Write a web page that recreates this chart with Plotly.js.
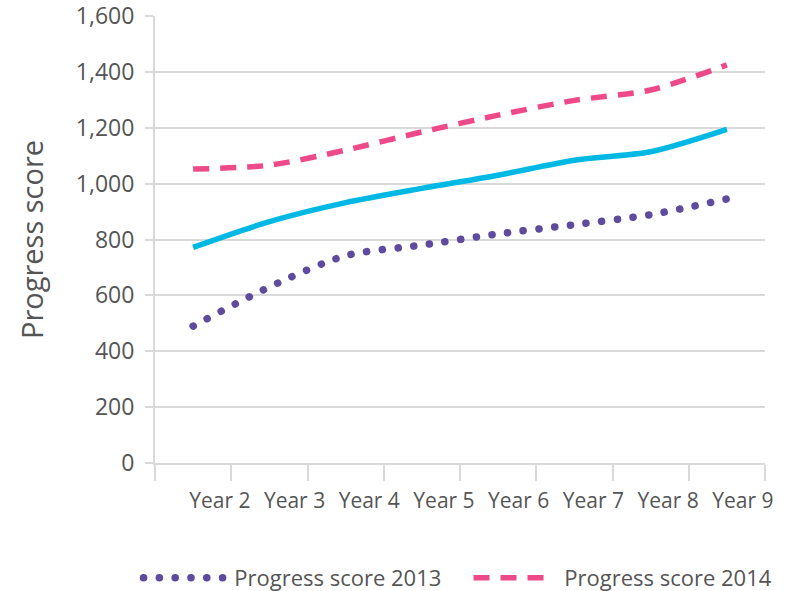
<!DOCTYPE html>
<html>
<head>
<meta charset="utf-8">
<script src="https://cdn.plot.ly/plotly-3.0.1.min.js"></script>
<style>
  body { margin: 0; padding: 0; background: #fff; }
  #chart { width: 785px; height: 591px; }
  path.js-line[style*="0.1px"] { stroke-linecap: round; }
</style>
</head>
<body>
<div id="chart"></div>
<script>
// ---- data ----
var yearLabels = ["Year 2", "Year 3", "Year 4", "Year 5", "Year 6", "Year 7", "Year 8", "Year 9"];
var score2013 = [490, 630, 742, 780, 820, 853, 889, 945];
var score2014 = [1052, 1066, 1120, 1185, 1245, 1298, 1335, 1425];
var scoreOverall = [772, 864, 932, 983, 1030, 1084, 1114, 1194];
var yTicks = [0, 200, 400, 600, 800, 1000, 1200, 1400, 1600];

var xPos = yearLabels.map(function (_, i) { return i + 0.5; });
var boundaries = yearLabels.map(function (_, i) { return i; }).concat([yearLabels.length]);
var labelPos = yearLabels.map(function (_, i) { return 0.85 + 0.98 * i; });

var FONT = "'Open Sans', 'Noto Sans', sans-serif";
var TXT = "#555555";
var GRID = "#d9d9d9";
var NB = "\u00A0";

var traces = [
  {
    x: xPos, y: score2013, name: NB + "Progress score 2013", type: "scatter", mode: "lines",
    line: { color: "#5e4b9e", width: 7.5, dash: "0.1px,15.7px", shape: "spline", smoothing: 0.8 }
  },
  {
    x: xPos, y: score2014, name: NB + "Progress score 2014", type: "scatter", mode: "lines",
    line: { color: "#ee4a8a", width: 5.5, dash: "16px,11px", shape: "spline", smoothing: 0.8 }
  },
  {
    x: xPos, y: scoreOverall, name: "Progress score", type: "scatter", mode: "lines",
    showlegend: false,
    line: { color: "#00b8e4", width: 5.5, shape: "spline", smoothing: 0.8 }
  }
];

var layout = {
  width: 785, height: 591,
  margin: { l: 155, r: 20, t: 16, b: 128, autoexpand: false },
  paper_bgcolor: "#ffffff", plot_bgcolor: "#ffffff",
  font: { family: FONT, color: TXT, size: 21 },
  showlegend: true,
  legend: {
    orientation: "h", xref: "paper", yref: "paper",
    x: -0.027, xanchor: "left", y: -0.257, yanchor: "middle",
    font: { family: FONT, color: TXT, size: 22 },
    itemwidth: 80, tracegroupgap: 0, traceorder: "normal",
    entrywidthmode: "pixels", entrywidth: 235
  },
  xaxis: {
    range: [0, yearLabels.length], fixedrange: true,
    showgrid: false, zeroline: false,
    showline: true, linecolor: GRID, linewidth: 2,
    tickmode: "array", tickvals: labelPos, ticktext: yearLabels,
    ticks: "", ticklen: 0, ticklabelstandoff: 18,
    tickfont: { family: FONT, color: TXT, size: 21 },
    minor: { tickmode: "array", tickvals: boundaries, ticks: "outside", ticklen: 16, tickwidth: 2, tickcolor: GRID, showgrid: false }
  },
  yaxis: {
    range: [0, 1600], fixedrange: true,
    tickmode: "array", tickvals: yTicks, tickformat: ",d",
    showgrid: true, gridcolor: GRID, gridwidth: 2,
    zeroline: false,
    showline: true, linecolor: GRID, linewidth: 2,
    ticks: "outside", ticklen: 8, tickwidth: 2, tickcolor: GRID,
    ticklabelstandoff: 6, ticklabeloverflow: "allow",
    tickfont: { family: FONT, color: TXT, size: 23 },
    title: { text: "Progress score", font: { family: FONT, color: TXT, size: 29 }, standoff: 24 }
  }
};

Plotly.newPlot("chart", traces, layout, { displayModeBar: false, staticPlot: true });
</script>
</body>
</html>
